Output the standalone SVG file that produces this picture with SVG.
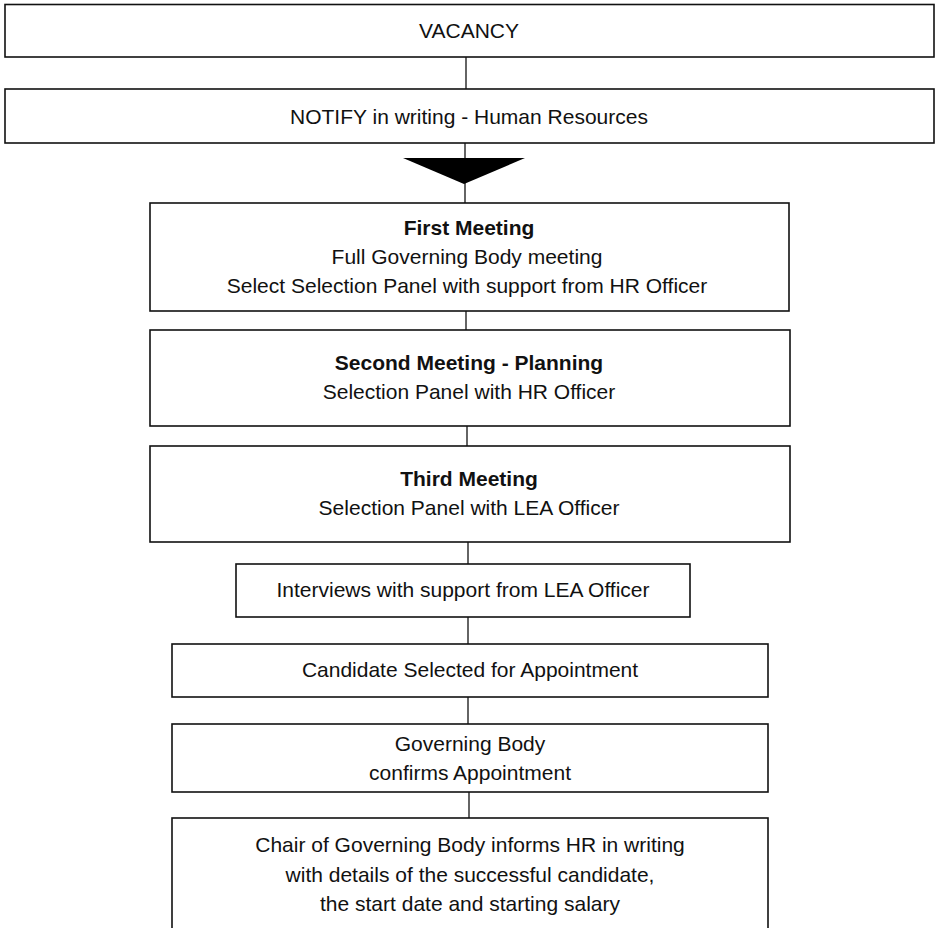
<svg xmlns="http://www.w3.org/2000/svg" width="935" height="928" viewBox="0 0 935 928">
<style>
.box{fill:#fff;stroke:#111;stroke-width:1.6}
.ln{stroke:#111;stroke-width:1.3;fill:none}
text{font-family:"Liberation Sans",Arial,sans-serif;font-size:21px;fill:#111;text-anchor:middle}
.b{font-weight:bold}
</style>
<rect width="935" height="928" fill="#fff"/>
<g id="connectors">
<line class="ln" x1="466" y1="57" x2="466" y2="89"/>
<line class="ln" x1="465" y1="143" x2="465" y2="203"/>
<polygon points="403,158 525,158 464,184" fill="#000"/>
<line class="ln" x1="466" y1="311" x2="466" y2="330"/>
<line class="ln" x1="467" y1="426" x2="467" y2="446"/>
<line class="ln" x1="468" y1="542" x2="468" y2="564"/>
<line class="ln" x1="468" y1="617" x2="468" y2="644"/>
<line class="ln" x1="468" y1="697" x2="468" y2="724"/>
<line class="ln" x1="469" y1="792" x2="469" y2="818"/>
</g>
<g id="vacancy">
<rect class="box" x="5" y="4.5" width="929" height="52.5"/>
<text x="469" y="38">VACANCY</text>
</g>
<g id="notify">
<rect class="box" x="5" y="89" width="929" height="54"/>
<text x="469" y="124">NOTIFY in writing - Human Resources</text>
</g>
<g id="first">
<rect class="box" x="150" y="203" width="639" height="108"/>
<text x="469" y="235" class="b">First Meeting</text>
<text x="467" y="264">Full Governing Body meeting</text>
<text x="467" y="293">Select Selection Panel with support from HR Officer</text>
</g>
<g id="second">
<rect class="box" x="150" y="330" width="640" height="96"/>
<text x="469" y="370" class="b">Second Meeting - Planning</text>
<text x="469" y="399">Selection Panel with HR Officer</text>
</g>
<g id="third">
<rect class="box" x="150" y="446" width="640" height="96"/>
<text x="469" y="486" class="b">Third Meeting</text>
<text x="469" y="515">Selection Panel with LEA Officer</text>
</g>
<g id="interviews">
<rect class="box" x="236" y="564" width="454" height="53"/>
<text x="463" y="597">Interviews with support from LEA Officer</text>
</g>
<g id="candidate">
<rect class="box" x="172" y="644" width="596" height="53"/>
<text x="470" y="677">Candidate Selected for Appointment</text>
</g>
<g id="confirm">
<rect class="box" x="172" y="724" width="596" height="68"/>
<text x="470" y="751">Governing Body</text>
<text x="470" y="780">confirms Appointment</text>
</g>
<g id="chair">
<rect class="box" x="172" y="818" width="596" height="120"/>
<text x="470" y="852">Chair of Governing Body informs HR in writing</text>
<text x="470" y="882">with details of the successful candidate,</text>
<text x="470" y="911">the start date and starting salary</text>
</g>
</svg>
